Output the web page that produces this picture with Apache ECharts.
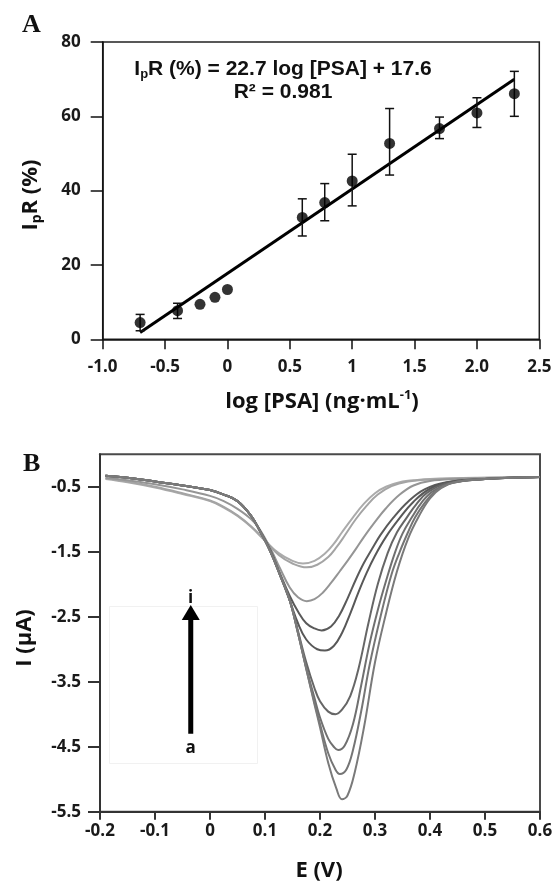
<!DOCTYPE html>
<html>
<head>
<meta charset="utf-8">
<script src="https://cdn.jsdelivr.net/npm/echarts@6/dist/echarts.min.js"></script>
<style>
html,body{margin:0;padding:0;background:#fff;}
#chart{width:553px;height:884px;}
</style>
</head>
<body>
<div id="chart"></div>
<script>
// ---------- Panel A data ----------
var logPSA   = [-0.7, -0.4, -0.22, -0.1, 0, 0.6, 0.78, 1.0, 1.3, 1.7, 2.0, 2.3];
var iprValue = [4.5, 7.7, 9.4, 11.3, 13.4, 32.8, 36.8, 42.6, 52.7, 56.7, 60.9, 66.1];
var errHigh  = [6.7, 9.7, null, null, null, 37.8, 41.9, 49.8, 62.1, 59.8, 65.0, 72.1];
var errLow   = [2.3, 5.6, null, null, null, 27.8, 31.9, 35.9, 44.2, 54.0, 57.0, 60.0];
var fitLine  = [[-0.7, 1.8], [2.3, 70.0]];
var xTickValuesA = [-1, -0.5, 0, 0.5, 1, 1.5, 2, 2.5];
var xTickLabelsA = ['-1.0', '-0.5', '0', '0.5', '1', '1.5', '2.0', '2.5'];
var yTickValuesA = [0, 20, 40, 60, 80];

// ---------- Panel B data (DPV curves a..i) ----------
var curveA = [[-0.19,-0.33],[-0.15,-0.36],[-0.1,-0.42],[-0.05,-0.48],[0,-0.55],[0.025,-0.62],[0.05,-0.72],[0.075,-0.95],[0.09,-1.17],[0.11,-1.5],[0.127,-1.85],[0.145,-2.25],[0.16,-2.75],[0.175,-3.3],[0.19,-3.85],[0.2,-4.2],[0.215,-4.75],[0.23,-5.15],[0.24,-5.31],[0.25,-5.25],[0.263,-4.9],[0.28,-4.2],[0.3,-3.2],[0.32,-2.45],[0.34,-1.8],[0.36,-1.3],[0.38,-0.95],[0.4,-0.68],[0.42,-0.52],[0.45,-0.42],[0.5,-0.38],[0.55,-0.36],[0.6,-0.35]];
var curveB = [[-0.19,-0.33],[-0.15,-0.36],[-0.1,-0.42],[-0.05,-0.48],[0,-0.55],[0.025,-0.62],[0.05,-0.72],[0.075,-0.95],[0.09,-1.17],[0.11,-1.5],[0.127,-1.85],[0.145,-2.25],[0.16,-2.75],[0.175,-3.3],[0.19,-3.82],[0.2,-4.15],[0.215,-4.6],[0.228,-4.85],[0.236,-4.92],[0.248,-4.85],[0.26,-4.55],[0.275,-3.95],[0.29,-3.25],[0.31,-2.5],[0.33,-1.85],[0.345,-1.5],[0.36,-1.2],[0.373,-0.97],[0.39,-0.75],[0.41,-0.57],[0.44,-0.44],[0.5,-0.38],[0.55,-0.36],[0.6,-0.35]];
var curveC = [[-0.19,-0.33],[-0.15,-0.36],[-0.1,-0.42],[-0.05,-0.48],[0,-0.55],[0.025,-0.62],[0.05,-0.72],[0.075,-0.95],[0.09,-1.17],[0.11,-1.5],[0.127,-1.85],[0.145,-2.25],[0.16,-2.75],[0.175,-3.28],[0.19,-3.75],[0.2,-4.05],[0.215,-4.38],[0.225,-4.5],[0.233,-4.55],[0.245,-4.48],[0.26,-4.15],[0.275,-3.55],[0.29,-2.92],[0.305,-2.4],[0.32,-1.95],[0.336,-1.52],[0.35,-1.22],[0.367,-0.97],[0.385,-0.74],[0.405,-0.57],[0.44,-0.44],[0.5,-0.38],[0.55,-0.36],[0.6,-0.35]];
var curveD = [[-0.19,-0.33],[-0.15,-0.36],[-0.1,-0.42],[-0.05,-0.48],[0,-0.55],[0.025,-0.62],[0.05,-0.72],[0.075,-0.95],[0.09,-1.17],[0.11,-1.5],[0.127,-1.85],[0.145,-2.25],[0.16,-2.72],[0.175,-3.2],[0.19,-3.6],[0.2,-3.8],[0.215,-3.96],[0.228,-4.0],[0.24,-3.93],[0.255,-3.72],[0.27,-3.3],[0.288,-2.6],[0.305,-2.0],[0.323,-1.52],[0.34,-1.2],[0.358,-0.97],[0.375,-0.77],[0.395,-0.59],[0.43,-0.45],[0.5,-0.38],[0.55,-0.36],[0.6,-0.35]];
var curveE = [[-0.19,-0.33],[-0.15,-0.36],[-0.1,-0.42],[-0.05,-0.48],[0,-0.55],[0.025,-0.62],[0.05,-0.72],[0.075,-0.95],[0.09,-1.17],[0.11,-1.5],[0.127,-1.85],[0.145,-2.25],[0.16,-2.6],[0.175,-2.85],[0.195,-3.0],[0.209,-3.02],[0.225,-2.95],[0.24,-2.75],[0.255,-2.45],[0.27,-2.12],[0.285,-1.82],[0.3,-1.56],[0.32,-1.27],[0.345,-0.98],[0.37,-0.73],[0.4,-0.53],[0.44,-0.42],[0.5,-0.38],[0.55,-0.36],[0.6,-0.35]];
var curveF = [[-0.19,-0.33],[-0.15,-0.36],[-0.1,-0.42],[-0.05,-0.48],[0,-0.55],[0.025,-0.62],[0.05,-0.72],[0.075,-0.95],[0.09,-1.16],[0.11,-1.48],[0.127,-1.83],[0.145,-2.18],[0.16,-2.42],[0.175,-2.6],[0.19,-2.68],[0.203,-2.71],[0.22,-2.65],[0.235,-2.48],[0.25,-2.22],[0.265,-1.93],[0.28,-1.67],[0.295,-1.45],[0.31,-1.24],[0.333,-0.98],[0.36,-0.73],[0.39,-0.54],[0.43,-0.43],[0.5,-0.38],[0.55,-0.36],[0.6,-0.35]];
var curveG = [[-0.19,-0.36],[-0.15,-0.40],[-0.1,-0.46],[-0.05,-0.54],[0,-0.64],[0.025,-0.72],[0.05,-0.84],[0.075,-1.0],[0.09,-1.15],[0.11,-1.45],[0.127,-1.75],[0.145,-2.05],[0.16,-2.2],[0.176,-2.26],[0.19,-2.23],[0.205,-2.13],[0.22,-1.98],[0.236,-1.8],[0.25,-1.64],[0.265,-1.46],[0.28,-1.27],[0.3,-1.04],[0.32,-0.83],[0.345,-0.62],[0.37,-0.48],[0.4,-0.41],[0.45,-0.38],[0.5,-0.37],[0.55,-0.36],[0.6,-0.35]];
var curveH = [[-0.19,-0.37],[-0.15,-0.42],[-0.1,-0.50],[-0.05,-0.60],[0,-0.71],[0.025,-0.81],[0.05,-0.94],[0.075,-1.11],[0.1,-1.32],[0.125,-1.55],[0.15,-1.68],[0.176,-1.74],[0.195,-1.7],[0.215,-1.58],[0.23,-1.43],[0.245,-1.25],[0.265,-1.0],[0.285,-0.79],[0.305,-0.62],[0.33,-0.49],[0.36,-0.42],[0.4,-0.39],[0.5,-0.36],[0.6,-0.35]];
var curveI = [[-0.19,-0.38],[-0.15,-0.43],[-0.1,-0.51],[-0.05,-0.61],[0,-0.72],[0.025,-0.82],[0.05,-0.95],[0.075,-1.12],[0.1,-1.33],[0.125,-1.52],[0.15,-1.64],[0.169,-1.68],[0.19,-1.64],[0.21,-1.52],[0.225,-1.38],[0.24,-1.2],[0.26,-0.97],[0.28,-0.76],[0.3,-0.6],[0.32,-0.5],[0.35,-0.42],[0.37,-0.40],[0.4,-0.38],[0.5,-0.36],[0.6,-0.35]];
var curveNames = ['a','b','c','d','e','f','g','h','i'];
var curves = [curveA, curveB, curveC, curveD, curveE, curveF, curveG, curveH, curveI];
var curveColors = ['#7a7a7a','#757575','#707070','#666666','#585858','#5a5a5a','#959595','#a4a4a4','#ababab'];
var yTickValuesB = [-5.5, -4.5, -3.5, -2.5, -1.5, -0.5];
var xTickValuesB = [-0.2, -0.1, 0, 0.1, 0.2, 0.3, 0.4, 0.5, 0.6];
var xTickLabelsB = ['-0.2', '-0.1', '0', '0.1', '0.2', '0.3', '0.4', '0.5', '0.6'];
var arrowLine = [[-0.035, -4.30], [-0.035, -2.45]];

// ---------- build ----------
var tickFont = {fontFamily: 'Open Sans', fontWeight: 'bold', fontSize: 17, color: '#1a1a1a'};
function labelFromList(vals, labels) {
  return function (v) {
    for (var i = 0; i < vals.length; i++) if (Math.abs(vals[i] - v) < 1e-6) return labels[i];
    return '';
  };
}
var errData = [];
for (var i = 0; i < logPSA.length; i++) {
  if (errHigh[i] != null) errData.push([logPSA[i], errHigh[i], errLow[i]]);
}
var pointData = logPSA.map(function (x, i) { return [x, iprValue[i]]; });

var seriesB = curves.map(function (c, k) {
  return {
    name: curveNames[k], type: 'line', xAxisIndex: 1, yAxisIndex: 1,
    data: c, showSymbol: false, smooth: 0.4,
    lineStyle: {color: curveColors[k], width: 2}, z: 3 + (8 - k) * 0.01, silent: true
  };
});

var chart = echarts.init(document.getElementById('chart'), null, {renderer: 'canvas'});
var option = {
  backgroundColor: '#fff',
  animation: false,
  grid: [
    {left: 102.7, top: 42, width: 436.6, height: 297.3, show: true, borderColor: '#222', borderWidth: 1.5, backgroundColor: 'transparent', outerBoundsMode: 'none', containLabel: false},
    {left: 100, top: 454.3, width: 440, height: 357.4, show: true, borderColor: '#4a4a4a', borderWidth: 2, backgroundColor: 'transparent', outerBoundsMode: 'none', containLabel: false}
  ],
  xAxis: [
    {type: 'value', gridIndex: 0, min: -1, max: 2.5, interval: 0.5,
     axisLine: {onZero: false, lineStyle: {color: '#111', width: 1.5}},
     axisTick: {show: true, length: 10, lineStyle: {color: '#111', width: 1.5}},
     splitLine: {show: false},
     axisLabel: Object.assign({margin: 19, formatter: labelFromList(xTickValuesA, xTickLabelsA)}, tickFont)},
    {type: 'value', gridIndex: 1, min: -0.2, max: 0.6, interval: 0.1,
     axisLine: {onZero: false, lineStyle: {color: '#333', width: 2}},
     axisTick: {show: true, length: 8, lineStyle: {color: '#333', width: 2}},
     splitLine: {show: false},
     axisLabel: Object.assign({margin: 11, formatter: labelFromList(xTickValuesB, xTickLabelsB)}, tickFont)}
  ],
  yAxis: [
    {type: 'value', gridIndex: 0, min: 0, max: 80, interval: 20,
     axisLine: {show: true, onZero: false, lineStyle: {color: '#111', width: 1.5}},
     axisTick: {show: true, length: 12, lineStyle: {color: '#111', width: 1.5}},
     splitLine: {show: false},
     axisLabel: Object.assign({margin: 22}, tickFont)},
    {type: 'value', gridIndex: 1, min: -5.5, max: 0, interval: 0.5,
     axisLine: {show: true, onZero: false, lineStyle: {color: '#333', width: 2}},
     axisTick: {show: true, length: 12, customValues: yTickValuesB, lineStyle: {color: '#333', width: 2}},
     splitLine: {show: false},
     axisLabel: Object.assign({margin: 19, customValues: yTickValuesB, formatter: function (v) { return String(v); }}, tickFont)}
  ],
  series: [
    {name: 'fit', type: 'line', xAxisIndex: 0, yAxisIndex: 0, data: fitLine, showSymbol: false,
     lineStyle: {color: '#000', width: 3}, z: 2, silent: true},
    {name: 'error', type: 'custom', xAxisIndex: 0, yAxisIndex: 0, data: errData, z: 3, silent: true,
     renderItem: function (params, api) {
       var x = api.value(0), hi = api.value(1), lo = api.value(2);
       var p1 = api.coord([x, hi]), p2 = api.coord([x, lo]);
       var w = 4.5, st = {stroke: '#111', lineWidth: 1.5};
       return {type: 'group', children: [
         {type: 'line', shape: {x1: p1[0], y1: p1[1], x2: p2[0], y2: p2[1]}, style: st},
         {type: 'line', shape: {x1: p1[0] - w, y1: p1[1], x2: p1[0] + w, y2: p1[1]}, style: st},
         {type: 'line', shape: {x1: p2[0] - w, y1: p2[1], x2: p2[0] + w, y2: p2[1]}, style: st}
       ]};
     }},
    {name: 'IpR', type: 'scatter', xAxisIndex: 0, yAxisIndex: 0, data: pointData, symbol: 'circle', symbolSize: 11,
     itemStyle: {color: '#000'}, z: 4, silent: true},
    {name: 'arrow', type: 'line', xAxisIndex: 1, yAxisIndex: 1, data: arrowLine, showSymbol: false,
     lineStyle: {color: '#000', width: 5}, z: 5, silent: true,
     markPoint: {silent: true, symbol: 'triangle', symbolSize: [18, 15],
       itemStyle: {color: '#000'}, label: {show: false},
       data: [{coord: [arrowLine[1][0], arrowLine[1][1]], symbolOffset: [0, -1]}]}}
  ].concat(seriesB),
  graphic: [
    {type: 'text', left: 22, top: 12, style: {text: 'A', font: 'bold 26px "Liberation Serif"', fill: '#111'}},
    {type: 'text', left: 23, top: 451, style: {text: 'B', font: 'bold 26px "Liberation Serif"', fill: '#111'}},
    {type: 'text', x: 283, y: 69, style: {
      text: '{n|I}{s|p}{n|R (%) = 22.7 log [PSA] + 17.6}', align: 'center', verticalAlign: 'middle',
      rich: {n: {font: 'bold 21px "Liberation Sans"', fill: '#111', lineHeight: 24},
             s: {font: 'bold 13px "Liberation Sans"', fill: '#111', lineHeight: 13, verticalAlign: 'bottom'}}}},
    {type: 'text', x: 283, y: 92, style: {text: 'R\u00b2 = 0.981', font: 'bold 21px "Liberation Sans"', fill: '#111', align: 'center', verticalAlign: 'middle'}},
    {type: 'text', x: 31, y: 195, rotation: Math.PI / 2, style: {
      text: '{n|I}{s|p}{n|R (%)}', align: 'center', verticalAlign: 'middle',
      rich: {n: {font: 'bold 22px "Open Sans"', fill: '#111', lineHeight: 26},
             s: {font: 'bold 14px "Open Sans"', fill: '#111', lineHeight: 14, verticalAlign: 'bottom'}}}},
    {type: 'text', x: 322, y: 402, style: {
      text: '{n|log [PSA] (ng\u00b7mL}{u|-1}{n|)}', align: 'center', verticalAlign: 'middle',
      rich: {n: {font: 'bold 22px "Open Sans"', fill: '#111', lineHeight: 26},
             u: {font: 'bold 13px "Open Sans"', fill: '#111', lineHeight: 13, verticalAlign: 'top'}}}},
    {type: 'text', x: 319, y: 871, style: {text: 'E (V)', font: 'bold 22px "Open Sans"', fill: '#111', align: 'center', verticalAlign: 'middle'}},
    {type: 'text', x: 25, y: 638, rotation: Math.PI / 2, style: {text: 'I (\u03bcA)', font: 'bold 22px "Open Sans"', fill: '#111', align: 'center', verticalAlign: 'middle'}},
    {type: 'rect', shape: {x: 109.5, y: 606.5, width: 148, height: 157}, style: {fill: 'none', stroke: '#f1f1f1', lineWidth: 1}, z: 0},
    {type: 'text', x: 190.7, y: 598, style: {text: 'i', font: 'bold 17px "Open Sans"', fill: '#111', align: 'center', verticalAlign: 'middle'}},
    {type: 'text', x: 190.7, y: 748, style: {text: 'a', font: 'bold 17px "Open Sans"', fill: '#111', align: 'center', verticalAlign: 'middle'}}
  ]
};
chart.setOption(option);
</script>
</body>
</html>
